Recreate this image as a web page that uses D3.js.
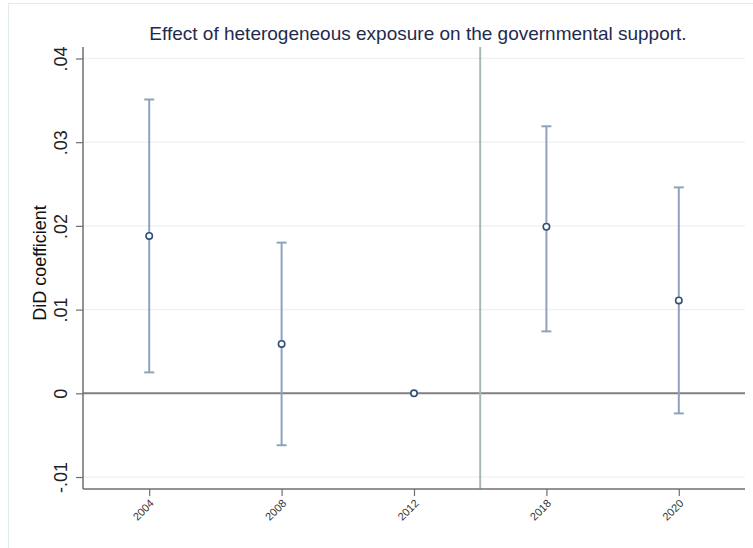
<html>
  <head>
    <meta charset="utf-8">
    <script src="https://d3js.org/d3.v7.min.js"></script>
    <style>
      body { margin: 0; background: #fff; font-family: "Liberation Sans", Arial, Helvetica, sans-serif; }
    </style>
  </head>
  <body>
    <div id="chart"></div>
  <script>
    // data
    const years = ["2004", "2008", "2012", "2018", "2020"]
    const coef  = [0.0188, 0.0059, 0.0, 0.0199, 0.0111]
    const lower = [0.0025, -0.0062, 0.0, 0.0074, -0.0024]
    const upper = [0.0351, 0.0180, 0.0, 0.0319, 0.0246]
    const yTicks = [-0.01, 0, 0.01, 0.02, 0.03, 0.04]
    const yTickLabels = ["-.01", "0", ".01", ".02", ".03", ".04"]
    const treatAt = 2.5   // vertical reference line, between 2012 and 2018

    const W = 753, H = 548
    const pL = 83, pR = 745, pT = 47, pB = 489

    const svg = d3.select("#chart").append("svg")
      .attr("width", W).attr("height", H)

    // outer frame
    svg.append("rect")
      .attr("x", 8.5).attr("y", 3.5)
      .attr("width", W).attr("height", H)
      .attr("fill", "none").attr("stroke", "#e3ecec")

    const x = d3.scaleLinear().domain([-0.5, years.length - 0.5]).range([pL, pR])
    const y = d3.scaleLinear().domain([-0.01143, 0.04137]).range([pB, pT])

    // gridlines
    svg.append("g").selectAll("line")
      .data(yTicks)
      .join("line")
        .attr("x1", pL).attr("x2", pR)
        .attr("y1", d => y(d)).attr("y2", d => y(d))
        .attr("stroke", "#eaf1f1").attr("stroke-width", 1.2)

    // zero line
    svg.append("line")
      .attr("x1", pL).attr("x2", pR)
      .attr("y1", y(0)).attr("y2", y(0))
      .attr("stroke", "#808080").attr("stroke-width", 2)

    // vertical line
    svg.append("line")
      .attr("x1", x(treatAt)).attr("x2", x(treatAt))
      .attr("y1", pT).attr("y2", pB)
      .attr("stroke", "#a7b9b3").attr("stroke-width", 2)

    // y axis
    const yAxis = d3.axisLeft(y)
      .tickValues(yTicks)
      .tickFormat((d, i) => yTickLabels[i])
      .tickSize(7).tickSizeOuter(0)
    const gy = svg.append("g")
      .attr("transform", `translate(${pL},0)`)
      .call(yAxis)
    gy.select(".domain").attr("stroke", "#6f6f6f").attr("stroke-width", 1.5)
      .attr("d", `M0,${pT}V${pB}`)
    gy.selectAll(".tick line").attr("stroke", "#6f6f6f").attr("stroke-width", 1.2)
    gy.selectAll(".tick text")
      .attr("x", null).attr("dy", null)
      .attr("transform", "translate(-16,0) rotate(-90)")
      .attr("text-anchor", "middle")
      .attr("font-family", "Liberation Sans, Arial, sans-serif")
      .attr("font-size", 18).attr("fill", "#222")

    // x axis
    const xAxis = d3.axisBottom(x)
      .tickValues(d3.range(years.length))
      .tickFormat(i => years[i])
      .tickSize(7).tickSizeOuter(0)
    const gx = svg.append("g")
      .attr("transform", `translate(0,${pB})`)
      .call(xAxis)
    gx.select(".domain").attr("stroke", "#6f6f6f").attr("stroke-width", 1.5)
      .attr("d", `M${pL},0H${pR}`)
    gx.selectAll(".tick line").attr("stroke", "#6f6f6f").attr("stroke-width", 1.2)
    gx.selectAll(".tick text")
      .attr("x", null).attr("y", null).attr("dy", null)
      .attr("transform", "translate(5,15) rotate(-45)")
      .attr("text-anchor", "end")
      .attr("font-family", "Liberation Sans, Arial, sans-serif")
      .attr("font-size", 11).attr("fill", "#333")

    // error bars
    const bars = svg.append("g")
    const idx = d3.range(years.length).filter(i => upper[i] !== lower[i])
    bars.selectAll("line.ci")
      .data(idx)
      .join("line")
        .attr("class", "ci")
        .attr("x1", i => x(i)).attr("x2", i => x(i))
        .attr("y1", i => y(lower[i])).attr("y2", i => y(upper[i]))
        .attr("stroke", "#8fa3be").attr("stroke-width", 2)
    bars.selectAll("line.capHi")
      .data(idx)
      .join("line")
        .attr("class", "capHi")
        .attr("x1", i => x(i) - 5).attr("x2", i => x(i) + 5)
        .attr("y1", i => y(upper[i])).attr("y2", i => y(upper[i]))
        .attr("stroke", "#8fa3be").attr("stroke-width", 2)
    bars.selectAll("line.capLo")
      .data(idx)
      .join("line")
        .attr("class", "capLo")
        .attr("x1", i => x(i) - 5).attr("x2", i => x(i) + 5)
        .attr("y1", i => y(lower[i])).attr("y2", i => y(lower[i]))
        .attr("stroke", "#8fa3be").attr("stroke-width", 2)

    // points
    svg.append("g").selectAll("circle")
      .data(coef)
      .join("circle")
        .attr("cx", (d, i) => x(i))
        .attr("cy", d => y(d))
        .attr("r", 3.2)
        .attr("fill", "#fff")
        .attr("stroke", "#2f4f75").attr("stroke-width", 1.6)

    // title
    svg.append("text")
      .attr("x", 418).attr("y", 40)
      .attr("text-anchor", "middle")
      .attr("font-size", 19)
      .attr("fill", "#1f2a4d")
      .text("Effect of heterogeneous exposure on the governmental support.")

    // y axis title
    svg.append("text")
      .attr("transform", "translate(46,263) rotate(-90)")
      .attr("text-anchor", "middle")
      .attr("font-size", 18)
      .attr("fill", "#111")
      .text("DiD coefficient")
  </script>
  </body>
</html>
